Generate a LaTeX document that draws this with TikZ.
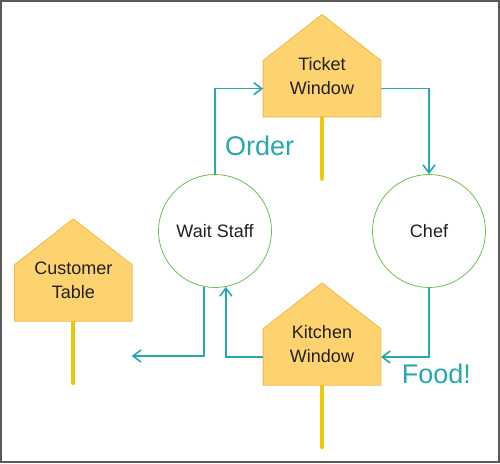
\documentclass[tikz,border=0pt]{standalone}
\usepackage{fontspec}
\setmainfont{Liberation Sans}
\usetikzlibrary{arrows.meta, positioning, calc}
\definecolor{signfill}{RGB}{253, 211, 112}
\definecolor{signline}{RGB}{240, 184, 76}
\definecolor{postyellow}{RGB}{240, 200, 10}
\definecolor{staffgreen}{RGB}{110, 188, 80}
\definecolor{flowteal}{RGB}{38, 168, 172}
\definecolor{inkdark}{RGB}{35, 31, 32}
\definecolor{framegray}{RGB}{90, 90, 90}

\tikzset{
  signbody/.style={rectangle, minimum width=117.4pt, minimum height=56pt, inner sep=0pt},
  signshape/.style={fill=signfill, draw=signline, line width=0.8pt, line join=miter},
  signpost/.style={draw=postyellow, line width=4pt, line cap=round},
  signtext/.style={text=inkdark, align=center, font=\fontsize{18}{24}\selectfont},
  staff/.style={circle, draw=staffgreen, line width=0.8pt, minimum size=113pt, inner sep=0pt,
    text=inkdark, font=\fontsize{18}{24}\selectfont},
  flow/.style={draw=flowteal, line width=1.4pt,
    -{Straight Barb[length=8pt, width=12pt, line width=1.6pt]}},
  flowlabel/.style={text=flowteal, font=\fontsize{27}{30}\selectfont, inner sep=0pt, anchor=base west}
}

\begin{document}
\begin{tikzpicture}[x=1pt, y=1pt]
  \useasboundingbox (0,0) rectangle (500,463);
  \draw[framegray, line width=2pt] (1,1) rectangle (499,462);

  % sign bodies, used as anchors
  \node[signbody] (ticket) at (322,374.3) {};
  \node[signbody] (kitchen) at (322,106) {};
  \node[signbody] (customer) at (73.3,170) {};

  % posts
  \draw[signpost] (ticket.south) -- ++(0,-62);
  \draw[signpost] (kitchen.south) -- ++(0,-62);
  \draw[signpost] (customer.south) -- ++(0,-62);

  % signs
  \path[signshape] (ticket.south west) -- (ticket.north west) -- ($(ticket.north)+(0,46)$)
    -- (ticket.north east) -- (ticket.south east) -- cycle;
  \path[signshape] (kitchen.south west) -- (kitchen.north west) -- ($(kitchen.north)+(0,46)$)
    -- (kitchen.north east) -- (kitchen.south east) -- cycle;
  \path[signshape] (customer.south west) -- (customer.north west) -- ($(customer.north)+(0,46)$)
    -- (customer.north east) -- (customer.south east) -- cycle;

  \node[signtext] (ticket-txt) at ($(ticket.center)+(0,12.5)$) {Ticket\\Window};
  \node[signtext] (kitchen-txt) at ($(kitchen.center)+(0,12.5)$) {Kitchen\\Window};
  \node[signtext] (customer-txt) at ($(customer.center)+(0,12.5)$) {Customer\\Table};

  % people
  \node[staff] (wait) at (215,232) {Wait Staff};
  \node[staff] (chef) at (429,232) {Chef};

  % flow of orders and food
  \coordinate (served) at (131.7,107);
  \draw[flow] (wait.north) |- (ticket.west);
  \draw[flow] (ticket.east) -| (chef.north);
  \draw[flow] (chef.south) |- (kitchen.east);
  \draw[flow] (kitchen.west) -| (wait.-79);
  \draw[flow] (wait.-101) |- (served);

  \node[flowlabel] (order) at (225,307) {Order};
  \node[flowlabel] (food) at (401.7,79.7) {Food!};
\end{tikzpicture}
\end{document}
